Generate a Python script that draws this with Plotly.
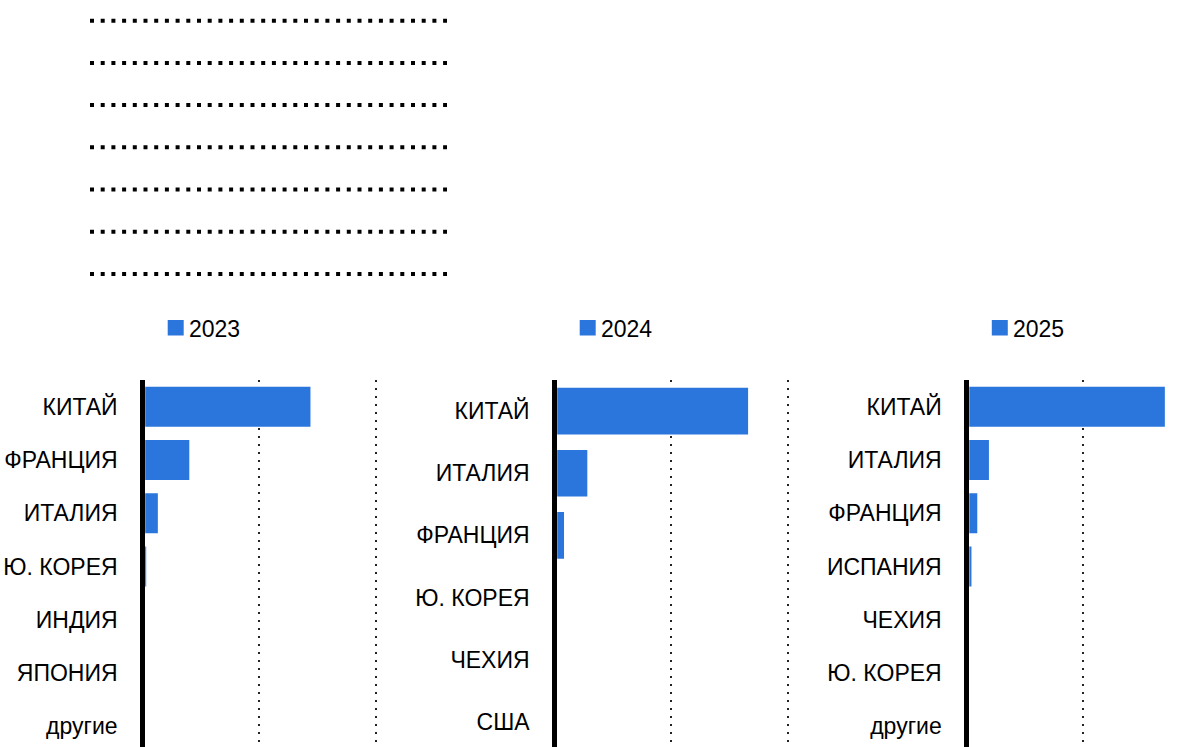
import plotly.graph_objects as go

# ---- data -------------------------------------------------------------
years = ["2023", "2024", "2025"]

countries_2023 = ["КИТАЙ", "ФРАНЦИЯ", "ИТАЛИЯ", "Ю. КОРЕЯ", "ИНДИЯ", "ЯПОНИЯ", "другие"]
values_2023 = [144, 40, 13, 3, 1, 1, 1]

countries_2024 = ["КИТАЙ", "ИТАЛИЯ", "ФРАНЦИЯ", "Ю. КОРЕЯ", "ЧЕХИЯ", "США"]
values_2024 = [166, 28, 8, 1, 1, 1]

countries_2025 = ["КИТАЙ", "ИТАЛИЯ", "ФРАНЦИЯ", "ИСПАНИЯ", "ЧЕХИЯ", "Ю. КОРЕЯ", "другие"]
values_2025 = [170, 19, 9, 4, 1, 1, 1]

# ---- layout constants -------------------------------------------------
W, H = 1195, 747
FONT = "Liberation Sans, Arial, sans-serif"
FONT_SIZE = 23
BAR_COLOR = "#2a76dc"

ZERO_PX = [142.7, 554.7, 966.8]      # where value 0 sits in each panel
RIGHT_PX = [380, 792, 1195]          # right edge of each panel
PX_PER_UNIT = 1.165
AXIS_LW = 5
PLOT_TOP_PX = 380
CAT_SPAN_PX = 373                    # height taken by the full set of rows
LEGEND_Y_PX = 329

panels = [
    (years[0], countries_2023, values_2023),
    (years[1], countries_2024, values_2024),
    (years[2], countries_2025, values_2025),
]

fig = go.Figure()
layout = dict(
    template="none",
    width=W, height=H,
    margin=dict(l=0, r=0, t=0, b=0, pad=0),
    paper_bgcolor="white", plot_bgcolor="white",
    bargap=0.25,
    showlegend=False,
    font=dict(family=FONT, size=FONT_SIZE, color="black"),
)

shapes = []
annotations = []
visible_h = H - PLOT_TOP_PX
for i, (year, cats, vals) in enumerate(panels):
    k = "" if i == 0 else str(i + 1)
    fig.add_trace(go.Bar(
        x=vals, y=cats, orientation="h", name=year,
        marker=dict(color=BAR_COLOR, line=dict(width=0)),
        xaxis="x" + k, yaxis="y" + k,
        hoverinfo="x+y",
    ))

    zero = ZERO_PX[i]
    left = zero + AXIS_LW / 2
    right = RIGHT_PX[i]
    pitch = CAT_SPAN_PX / len(cats)

    layout["xaxis" + k] = dict(
        domain=[left / W, right / W],
        range=[(left - zero) / PX_PER_UNIT, (right - zero) / PX_PER_UNIT],
        anchor="y" + k,
        tick0=0, dtick=100,
        showgrid=True, gridcolor="#222", gridwidth=2, griddash="2px,6px",
        zeroline=False, showline=False, showticklabels=False, ticks="",
        automargin=False, fixedrange=True,
    )
    layout["yaxis" + k] = dict(
        domain=[0, visible_h / H],
        type="category", categoryorder="array", categoryarray=cats,
        range=[-0.5 + visible_h / pitch, -0.5],
        anchor="x" + k,
        showline=True, linecolor="black", linewidth=AXIS_LW,
        showgrid=False, zeroline=False, ticks="",
        ticklabelstandoff=18,
        tickfont=dict(family=FONT, size=FONT_SIZE, color="black"),
        automargin=False, fixedrange=True,
    )

    # legend key: coloured square followed by the year
    shapes.append(dict(
        type="rect", xref="paper", yref="paper",
        x0=(zero + 25) / W, x1=(zero + 41) / W,
        y0=(H - 335.5) / H, y1=(H - 320) / H,
        fillcolor=BAR_COLOR, line=dict(width=0),
    ))
    annotations.append(dict(
        xref="paper", yref="paper",
        x=(zero + 44) / W, y=(H - LEGEND_Y_PX) / H,
        xanchor="left", yanchor="middle",
        text=year, showarrow=False,
        font=dict(family=FONT, size=FONT_SIZE, color="black"),
    ))

# dotted rows at the top of the page
DOT_ROW_X0, DOT_ROW_X1 = 90, 447
for r in range(7):
    yc = 20.7 + 42.2 * r
    shapes.append(dict(
        type="line", xref="paper", yref="paper",
        x0=DOT_ROW_X0 / W, x1=DOT_ROW_X1 / W,
        y0=(H - yc) / H, y1=(H - yc) / H,
        line=dict(color="black", width=4, dash="4px,6.7px"),
    ))

layout["shapes"] = shapes
layout["annotations"] = annotations

fig.update_layout(**layout)
fig.write_html("out.html", config={"displayModeBar": False})
